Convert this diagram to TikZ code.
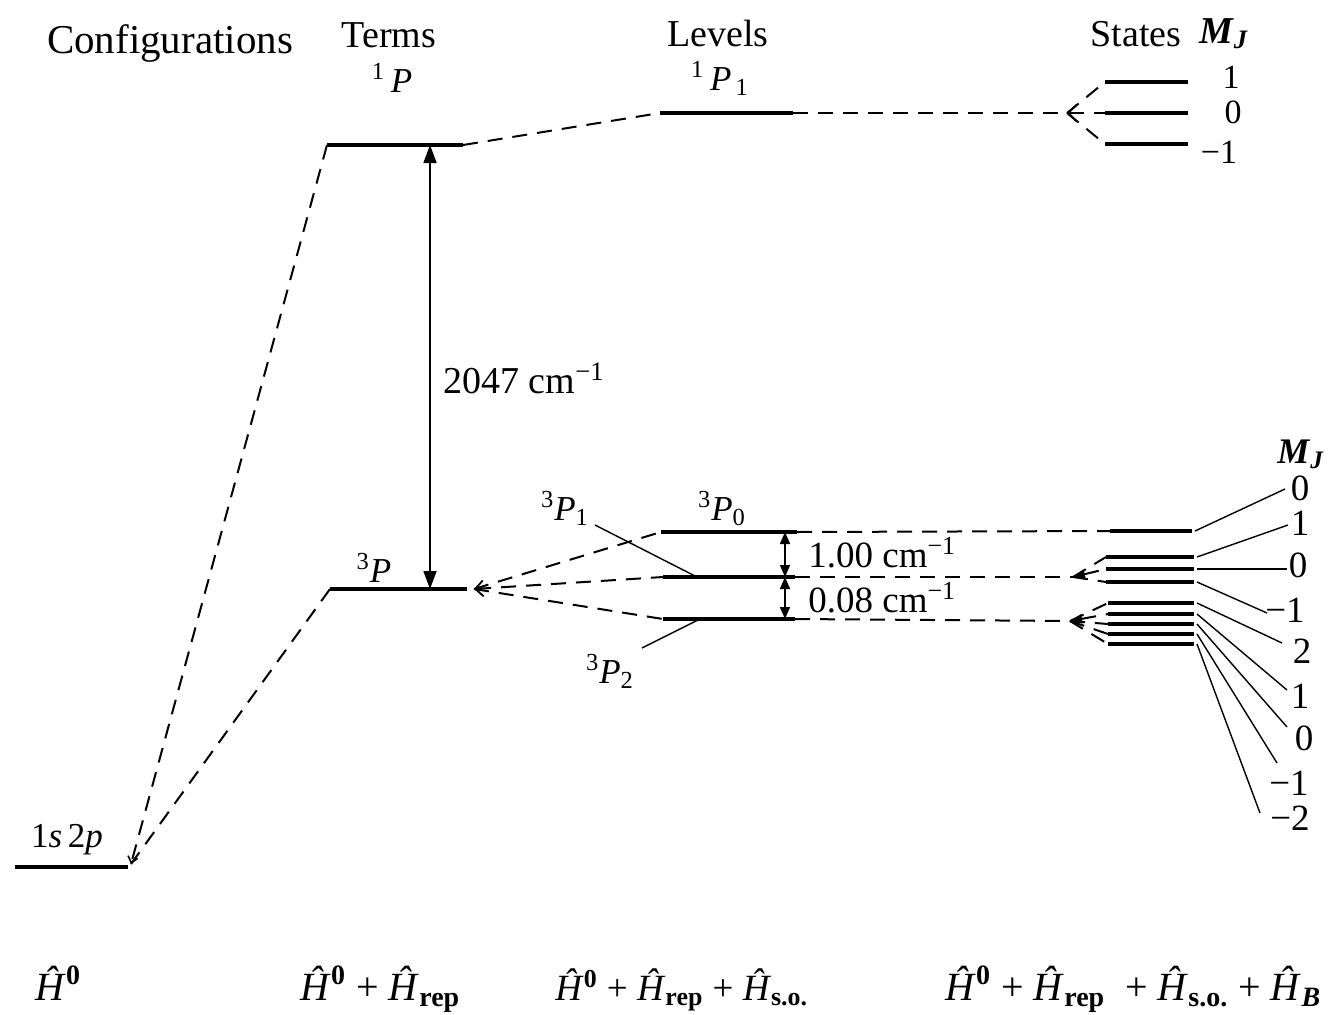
\documentclass[tikz,border=0pt]{standalone}
\usepackage{fontspec}
\setmainfont{Liberation Serif}
\usetikzlibrary{arrows.meta}
\begin{document}
\begin{tikzpicture}[x=0.5pt,y=-0.5pt,
  lvl/.style={line width=2.2pt},
  conn/.style={line width=1pt,dash pattern=on 7.5pt off 5pt},
  lead/.style={line width=0.7pt},
  gap/.style={line width=0.8pt,{Triangle[length=9pt,width=6.5pt]}-{Triangle[length=9pt,width=6.5pt]}},
  sgap/.style={line width=0.8pt,{Triangle[length=6pt,width=5pt]}-{Triangle[length=6pt,width=5pt]}},
  openV/.style={{Straight Barb[length=4pt,width=8pt,line width=0.9pt]}-},
  openVend/.style={-{Straight Barb[length=3pt,width=5pt,line width=0.8pt]}},
  filledV/.style={{Triangle[length=6pt,width=4.5pt]}-},
  head/.style={font=\fontsize{19}{22}\selectfont,inner sep=0pt,anchor=base},
  term/.style={font=\fontsize{17.5}{20}\selectfont,inner sep=0pt,anchor=base},
  energy/.style={font=\fontsize{19}{22}\selectfont,inner sep=0pt,anchor=base west},
  snum/.style={font=\fontsize{17}{20}\selectfont,inner sep=0pt,anchor=base},
  num/.style={font=\fontsize{18.5}{21}\selectfont,inner sep=0pt,anchor=base},
  ham/.style={font=\fontsize{20}{23}\selectfont,inner sep=0pt,anchor=base west},
]
\useasboundingbox (0,0) rectangle (1330,1014);

% ---------- headings ----------
\node[head,font=\fontsize{20.5}{23}\selectfont] (hcfg) at (170,53) {Configurations};
\node[head] (hterm) at (389,47) {Terms};
\node[head] (hlev) at (718,46) {Levels};
\node[head] (hstate) at (1136,46) {States};
\node[head] (hmj) at (1224,43) {\textbf{\textit{M}}\textsubscript{\textbf{\textit{J}}}};

% ---------- level coordinates ----------
\coordinate (cfgL) at (15,867);   \coordinate (cfgR) at (128,867);
\coordinate (cfgTip) at (131,864);
\coordinate (t1L) at (327,145);   \coordinate (t1R) at (463,145);
\coordinate (t3L) at (330,589);   \coordinate (t3R) at (467,589);
\coordinate (t3Tip) at (474,589);
\coordinate (v1L) at (660,113);   \coordinate (v1R) at (793,113);
\coordinate (v0L) at (661,532);   \coordinate (v0R) at (797,532);
\coordinate (vAL) at (663,577);   \coordinate (vAR) at (795,577);
\coordinate (vBL) at (663,619);   \coordinate (vBR) at (795,619);
\coordinate (g1) at (430,145);    \coordinate (g3) at (430,589);
\coordinate (dA) at (785,532);    \coordinate (dB) at (785,577);  \coordinate (dC) at (785,619);

% ---------- levels ----------
\draw[lvl] (cfgL) -- (cfgR);
\draw[lvl] (t1L) -- (t1R);
\draw[lvl] (t3L) -- (t3R);
\draw[lvl] (v1L) -- (v1R);
\draw[lvl] (v0L) -- (v0R);
\draw[lvl] (vAL) -- (vAR);
\draw[lvl] (vBL) -- (vBR);

% ---------- level labels ----------
\node[term] (l1s2p) at (67,847) {1\textit{s}\,2\textit{p}};
\node[term] (l1P) at (392,92) {\textsuperscript{1}\,\textit{P}};
\node[term] (l3P) at (374,582) {\textsuperscript{3}\textit{P}};
\node[term] (l1P1) at (720,90) {\textsuperscript{1}\,\textit{P}\textsubscript{\,1}};
\node[term] (l3P0) at (722,520) {\textsuperscript{3}\textit{P}\textsubscript{0}};
\node[term] (l3P1) at (565,520) {\textsuperscript{3}\textit{P}\textsubscript{1}};
\node[term] (l3P2) at (610,683) {\textsuperscript{3}\textit{P}\textsubscript{2}};

% leaders for 3P1 / 3P2
\coordinate (k3P1a) at (595,525); \coordinate (k3P1b) at (697,577);
\coordinate (k3P2a) at (642,648); \coordinate (k3P2b) at (698,620);
\draw[lead] (k3P1a) -- (k3P1b);
\draw[lead] (k3P2a) -- (k3P2b);

% ---------- configuration -> terms ----------
\draw[conn,openVend] (t1L) -- (cfgTip);
\draw[conn] (t3L) -- (cfgTip);

% ---------- term splitting arrow ----------
\draw[gap] (g1) -- (g3);
\node[energy] (e2047) at (443,393) {2047 cm\textsuperscript{−1}};

% ---------- terms -> levels ----------
\draw[conn] (t1R) -- (v1L);
\draw[conn] (t3Tip) -- (v0L);
\draw[conn,openV] (t3Tip) -- (vAL);
\draw[conn] (t3Tip) -- (vBL);

% fine structure gaps
\draw[sgap] (dA) -- (dB);
\draw[sgap] (dB) -- (dC);
\node[energy,font=\fontsize{18.5}{21}\selectfont] (e100) at (808,567) {1.00 cm\textsuperscript{−1}};
\node[energy,font=\fontsize{18.5}{21}\selectfont] (e008) at (808,612) {0.08 cm\textsuperscript{−1}};

% ---------- 1P1 states ----------
\coordinate (sTip1) at (1067,113);
\coordinate (u0L) at (1105,82);  \coordinate (u0R) at (1188,82);
\coordinate (u1L) at (1105,113); \coordinate (u1R) at (1188,113);
\coordinate (u2L) at (1105,144); \coordinate (u2R) at (1188,144);
\draw[lvl] (u0L) -- (u0R);
\draw[lvl] (u1L) -- (u1R);
\draw[lvl] (u2L) -- (u2R);
\draw[conn] (v1R) -- (sTip1);
\draw[conn] (sTip1) -- (u0L);
\draw[conn,openV] (sTip1) -- (u1L);
\draw[conn] (sTip1) -- (u2L);
\node[snum] (n1) at (1231,88) {1};
\node[snum] (n0) at (1233,123) {0};
\node[snum] (nm1) at (1219,163) {−1};

% ---------- 3P states ----------
\coordinate (s0L) at (1110,531); \coordinate (s0R) at (1192,531);
\coordinate (s1L) at (1106,557); \coordinate (s1R) at (1194,557);
\coordinate (s2L) at (1106,569); \coordinate (s2R) at (1194,569);
\coordinate (s3L) at (1106,582); \coordinate (s3R) at (1194,582);
\coordinate (s4L) at (1108,603); \coordinate (s4R) at (1194,603);
\coordinate (s5L) at (1108,614); \coordinate (s5R) at (1194,614);
\coordinate (s6L) at (1108,624); \coordinate (s6R) at (1194,624);
\coordinate (s7L) at (1108,634); \coordinate (s7R) at (1194,634);
\coordinate (s8L) at (1108,644); \coordinate (s8R) at (1194,644);
\foreach \i in {0,...,8} {\draw[lvl] (s\i L) -- (s\i R);}

\coordinate (tipA) at (1073,577);
\coordinate (tipB) at (1070,621);
\draw[conn] (v0R) -- (s0L);
\draw[conn] (vAR) -- (tipA);
\draw[conn] (vBR) -- (tipB);
\draw[conn,filledV] (tipA) -- (s2L);
\draw[conn] (tipA) -- (s1L);
\draw[conn] (tipA) -- (s3L);
\draw[conn,filledV] (tipB) -- (s5L);
\foreach \i in {4,6,7,8} {\draw[conn] (tipB) -- (s\i L);}

% lower M_J labels
\node[head,font=\fontsize{18}{20}\selectfont] (hmj2) at (1301,463) {\textbf{\textit{M}}\textsubscript{\textbf{\textit{J}}}};
\node[num] (m0) at (1300,500) {0};
\node[num] (m1) at (1300,535) {1};
\node[num] (m2) at (1298,577) {0};
\node[num] (m3) at (1285,622) {−1};
\node[num] (m4) at (1302,663) {2};
\node[num] (m5) at (1300,708) {1};
\node[num] (m6) at (1304,750) {0};
\node[num] (m7) at (1289,795) {−1};
\node[num] (m8) at (1290,830) {−2};

\coordinate (k0) at (1285,489);
\coordinate (k1) at (1288,525);
\coordinate (k2) at (1287,569);
\coordinate (k3) at (1267,613);
\coordinate (k4) at (1282,643);
\coordinate (k5) at (1287,690);
\coordinate (k6) at (1287,727);
\coordinate (k7) at (1277,763);
\coordinate (k8) at (1260,813);
\foreach \i in {0,...,8} {\draw[lead] ([xshift=1.5pt]s\i R) -- (k\i);}

% ---------- Hamiltonians ----------
\node[ham] (h1) at (35,1000) {\textit{Ĥ}\textsuperscript{\textbf{0}}};
\node[ham] (h2) at (300,1000) {\textit{Ĥ}\textsuperscript{\textbf{0}} + \textit{Ĥ}\textsubscript{\textbf{rep}}};
\node[ham,font=\fontsize{18.5}{22}\selectfont] (h3) at (555,1000) {\textit{Ĥ}\textsuperscript{\textbf{0}} + \textit{Ĥ}\textsubscript{\textbf{rep}} + \textit{Ĥ}\textsubscript{\textbf{s.o.}}};
\node[ham] (h4) at (945,1000) {\textit{Ĥ}\textsuperscript{\textbf{0}} + \textit{Ĥ}\textsubscript{\textbf{rep}}\ \ + \textit{Ĥ}\textsubscript{\textbf{s.o.}} + \textit{Ĥ}\textsubscript{\textbf{\textit{B}}}};
\end{tikzpicture}
\end{document}
